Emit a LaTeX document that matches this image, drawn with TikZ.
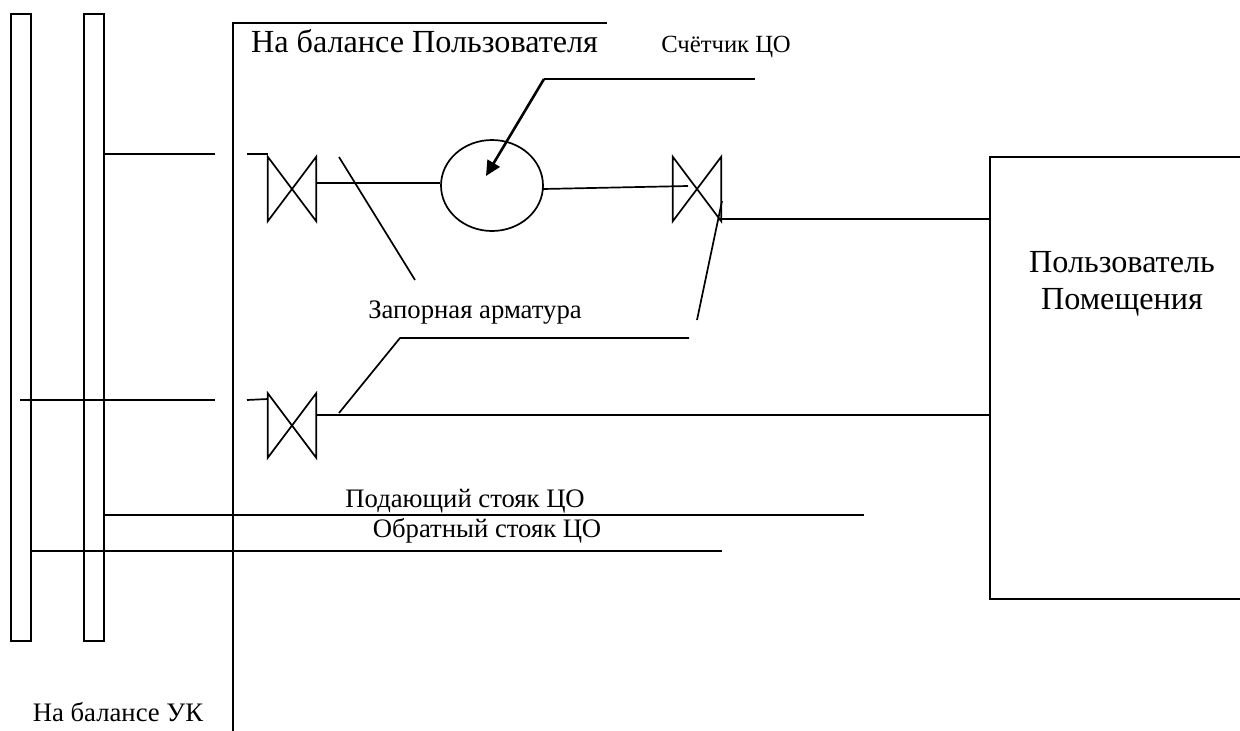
\documentclass[tikz,border=0pt]{standalone}
\usepackage{fontspec}
\setmainfont{Liberation Serif}
\usetikzlibrary{shapes.geometric,arrows.meta}
\tikzset{
    valvebox/.style={inner sep=0pt,minimum width=48pt,minimum height=64pt},
    meterbox/.style={ellipse,draw,line width=1.7pt,inner sep=0pt,minimum width=102pt,minimum height=91pt},
    riserbox/.style={draw,line width=1.7pt,inner sep=0pt,minimum width=20pt,minimum height=627pt},
    pipe/.style={line width=1.7pt},
    bigtext/.style={font=\fontsize{32.2pt}{37pt}\selectfont,align=center},
    smalltext/.style={font=\fontsize{26.7pt}{32pt}\selectfont}
}
\begin{document}
\begin{tikzpicture}[x=1pt,y=-1pt]
\useasboundingbox (0,0) rectangle (1240,731);

% Risers
\node[riserbox] (riserA) at (21,327.5) {};
\node[riserbox] (riserB) at (94,327.5) {};

% Balance border
\coordinate (borderTop) at (607,23);
\coordinate (borderCorner) at (233,23);
\coordinate (borderEnd) at (233,731);
\draw[pipe] (borderTop) -- (borderCorner) -- (borderEnd);

% Valves
\node[valvebox] (valveA) at (292,189) {};
\node[valvebox] (valveB) at (697,189) {};
\node[valvebox] (valveC) at (292,425.5) {};
\foreach \v in {valveA,valveB,valveC} {
    \draw[pipe] (\v.north west) -- (\v.south east) -- (\v.north east) -- (\v.south west) -- cycle;
}

% Meter
\node[meterbox] (meter) at (492,185.5) {};

% Supply branch
\coordinate (gapA) at (215,154);
\coordinate (stubA) at (247,154);
\coordinate (stubAend) at (268,154);
\draw[pipe] (riserB.east |- gapA) -- (gapA);
\draw[pipe] (stubA) -- (stubAend);
\draw[pipe] (valveA.east |- 0,183) -- (meter.west |- 0,183);
\coordinate (meterOut) at (543,189);
\coordinate (valveBin) at (688,186);
\draw[pipe] (meterOut) -- (valveBin);

% User room
\coordinate (roomTop) at (1240,157);
\coordinate (roomA) at (990,157);
\coordinate (roomB) at (990,599);
\coordinate (roomBottom) at (1240,599);
\draw[pipe] (roomTop) -- (roomA) -- (roomB) -- (roomBottom);
\coordinate (valveBout) at (721,219);
\draw[pipe] (valveBout) -- (roomA |- valveBout);

% Return branch
\coordinate (gapC) at (215,400);
\coordinate (stubC) at (247,400);
\coordinate (stubCend) at (268,399);
\coordinate (returnStart) at (20,400);
\draw[pipe] (returnStart) -- (gapC);
\draw[pipe] (stubC) -- (stubCend);
\coordinate (valveCout) at (316,415);
\draw[pipe] (valveCout) -- (roomA |- valveCout);

% Riser lines
\coordinate (supplyEnd) at (864,515);
\coordinate (returnEnd) at (722,551);
\draw[pipe] (riserB.east |- supplyEnd) -- (supplyEnd);
\draw[pipe] (riserA.east |- returnEnd) -- (returnEnd);

% Meter leader
\coordinate (meterShelf) at (755,79);
\coordinate (meterKnee) at (544,79);
\coordinate (meterTip) at (486,176);
\draw[pipe] (meterShelf) -- (meterKnee);
\draw[line width=2.6pt,-{Triangle[length=15pt,width=14pt]}] (meterKnee) -- (meterTip);

% Shutoff leaders
\coordinate (leadA) at (339,157);
\coordinate (leadAend) at (415,280);
\coordinate (shelfL) at (400,338);
\coordinate (shelfR) at (689,338);
\coordinate (leadC) at (339,413);
\coordinate (leadB) at (722,201);
\coordinate (leadBend) at (697,320);
\draw[pipe] (leadA) -- (leadAend);
\draw[pipe] (leadC) -- (shelfL) -- (shelfR);
\draw[pipe] (leadB) -- (leadBend);

% Labels
\node[bigtext] (userBalance) at (424.5,41) {На балансе Пользователя};
\node[smalltext,font=\fontsize{24.7pt}{30pt}\selectfont] (meterText) at (726,47) {Счётчик ЦО};
\node[smalltext] (valveText) at (475,313) {Запорная арматура};
\node[bigtext] (userText) at (1122,284) {Пользователь\\Помещения};
\node[smalltext] (supplyText) at (465,501) {Подающий стояк ЦО};
\node[smalltext] (returnText) at (487,531) {Обратный стояк ЦО};
\node[smalltext] (ukText) at (118,712) {На балансе УК};

\end{tikzpicture}
\end{document}
